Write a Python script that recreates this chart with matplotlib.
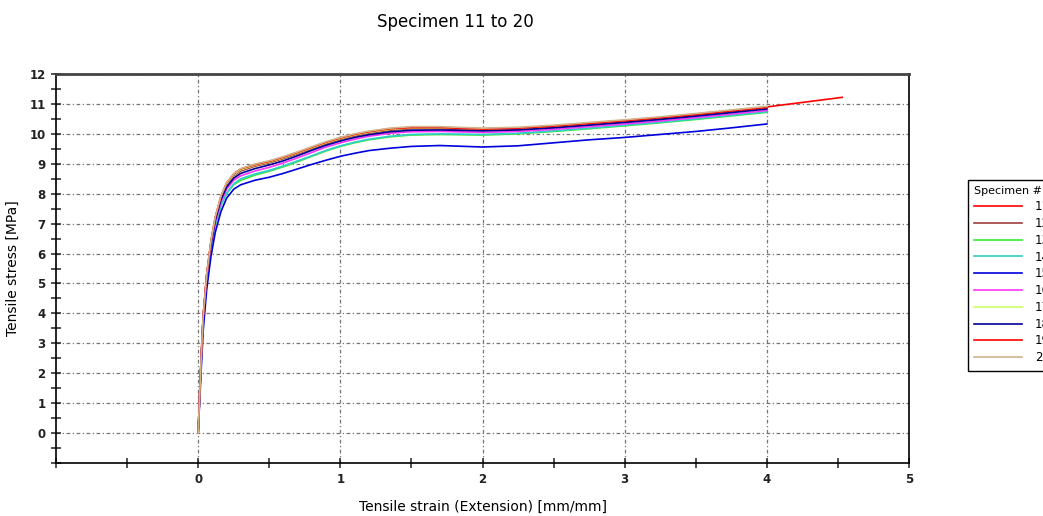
import matplotlib.pyplot as plt
from matplotlib.ticker import MultipleLocator

# strain values shared by every specimen (mm/mm)
strain = [0, 0.01, 0.02, 0.035, 0.06, 0.09, 0.12, 0.16, 0.2, 0.25, 0.3, 0.4, 0.5, 0.6,
          0.7, 0.8, 0.9, 1.0, 1.1, 1.2, 1.35, 1.5, 1.7, 2.0, 2.25, 2.5, 2.75, 3.0,
          3.25, 3.5, 3.75, 4.0]
strain_11 = strain + [4.25, 4.53]

# tensile stress (MPa) per specimen
s11 = [0, 1.2, 2.4, 3.9, 5.3, 6.4, 7.2, 7.9, 8.35, 8.65, 8.82, 8.97, 9.08, 9.22, 9.38, 9.55,
       9.72, 9.86, 9.98, 10.07, 10.17, 10.22, 10.22, 10.17, 10.2, 10.27, 10.36, 10.45,
       10.55, 10.66, 10.78, 10.9, 11.05, 11.22]
s12 = [0, 1.2, 2.35, 3.85, 5.25, 6.35, 7.15, 7.85, 8.3, 8.6, 8.76, 8.92, 9.03, 9.17, 9.33,
       9.5, 9.67, 9.81, 9.93, 10.02, 10.12, 10.17, 10.17, 10.12, 10.15, 10.22, 10.31, 10.4,
       10.5, 10.61, 10.73, 10.85]
s13 = [0, 1.15, 2.3, 3.8, 5.15, 6.2, 6.95, 7.6, 8.0, 8.3, 8.45, 8.62, 8.75, 8.9, 9.07, 9.25,
       9.43, 9.58, 9.7, 9.8, 9.9, 9.96, 9.98, 9.96, 10.0, 10.08, 10.17, 10.27, 10.37, 10.48,
       10.6, 10.72]
s14 = [0, 1.15, 2.3, 3.8, 5.15, 6.2, 6.95, 7.62, 8.02, 8.33, 8.5, 8.66, 8.78, 8.93, 9.1,
       9.27, 9.45, 9.6, 9.72, 9.82, 9.92, 9.98, 10.0, 9.98, 10.02, 10.1, 10.19, 10.29, 10.39,
       10.5, 10.62, 10.74]
s15 = [0, 1.0, 2.0, 3.4, 4.8, 5.9, 6.7, 7.4, 7.85, 8.15, 8.3, 8.45, 8.55, 8.68, 8.83, 8.98,
       9.12, 9.25, 9.35, 9.44, 9.52, 9.58, 9.61, 9.56, 9.6, 9.7, 9.8, 9.88, 9.98, 10.08,
       10.2, 10.33]
s16 = [0, 1.2, 2.3, 3.85, 5.2, 6.3, 7.05, 7.72, 8.15, 8.45, 8.6, 8.76, 8.88, 9.03, 9.2,
       9.38, 9.56, 9.7, 9.82, 9.92, 10.02, 10.07, 10.08, 10.05, 10.08, 10.15, 10.24, 10.33,
       10.43, 10.54, 10.66, 10.78]
s17 = [0, 1.2, 2.4, 3.9, 5.3, 6.4, 7.18, 7.88, 8.33, 8.63, 8.8, 8.95, 9.06, 9.2, 9.36, 9.53,
       9.7, 9.84, 9.96, 10.05, 10.15, 10.2, 10.2, 10.16, 10.19, 10.26, 10.35, 10.45, 10.55,
       10.66, 10.78, 10.9]
s18 = [0, 1.2, 2.35, 3.85, 5.25, 6.3, 7.1, 7.8, 8.22, 8.52, 8.68, 8.84, 8.96, 9.1, 9.27,
       9.45, 9.62, 9.76, 9.88, 9.97, 10.07, 10.12, 10.13, 10.1, 10.13, 10.2, 10.29, 10.38,
       10.48, 10.59, 10.71, 10.83]
s19 = [0, 1.2, 2.4, 3.9, 5.3, 6.4, 7.2, 7.9, 8.36, 8.66, 8.83, 8.97, 9.08, 9.22, 9.38, 9.55,
       9.72, 9.86, 9.98, 10.07, 10.17, 10.21, 10.21, 10.16, 10.19, 10.26, 10.35, 10.44,
       10.54, 10.65, 10.77, 10.88]
s20 = [0, 1.2, 2.4, 3.9, 5.3, 6.42, 7.22, 7.92, 8.37, 8.67, 8.84, 8.99, 9.1, 9.24, 9.4, 9.57,
       9.74, 9.88, 10.0, 10.09, 10.19, 10.24, 10.24, 10.19, 10.22, 10.29, 10.38, 10.47,
       10.57, 10.68, 10.8, 10.92]

labels = ['11', '12', '13', '14', '15', '16', '17', '18', '19', '20']
colors = ['#ff0000', '#a03c3c', '#33ee33', '#33cccc', '#0000dd', '#ff33ff', '#ccff66',
          '#000099', '#ff0000', '#d2b48c']
series = [(strain_11, s11), (strain, s12), (strain, s13), (strain, s14), (strain, s15),
          (strain, s16), (strain, s17), (strain, s18), (strain, s19), (strain, s20)]

fig = plt.figure(figsize=(10.43, 5.16), dpi=100)
ax = fig.add_axes([56/1043, 53/516, 853/1043, 389/516])

for (x, y), lab, c in zip(series, labels, colors):
    ax.plot(x, y, color=c, lw=1.2, label=lab)

ax.set_xlim(-1, 5)
ax.set_ylim(-1, 12)
ax.xaxis.set_minor_locator(MultipleLocator(0.5))
ax.yaxis.set_minor_locator(MultipleLocator(0.5))
ax.set_xticks(range(0, 6))
ax.set_yticks(range(0, 13))
ax.tick_params(which='both', direction='inout', length=7, width=1.1, color='#222222')
ax.tick_params(labelsize=8.5, pad=4)
for t in ax.get_xticklabels() + ax.get_yticklabels():
    t.set_fontweight('bold')
    t.set_color('#222222')

ax.grid(True, which='major', color='#777777', lw=0.9, linestyle=(0, (3, 2, 1, 2)))
for sp in ax.spines.values():
    sp.set_linewidth(1.2)
ax.spines['top'].set_color('#444444')
ax.spines['top'].set_linewidth(2)

ax.set_xlabel('Tensile strain (Extension) [mm/mm]', fontsize=10, labelpad=10)
ax.set_ylabel('Tensile stress [MPa]', fontsize=10, labelpad=7)
fig.text(455/1043, 1 - 22/516, 'Specimen 11 to 20', fontsize=12, ha='center', va='center')

leg = fig.legend(loc='upper left', bbox_to_anchor=(968/1043, 1 - 180/516), title='Specimen #',
                 fontsize=8.5, title_fontsize=8, frameon=True, fancybox=False,
                 edgecolor='black', framealpha=1, handlelength=4, handletextpad=1.1,
                 labelspacing=0.32, borderpad=0.55, alignment='left', borderaxespad=0)
leg.get_frame().set_linewidth(1)

fig.savefig('out.png', dpi=100)
